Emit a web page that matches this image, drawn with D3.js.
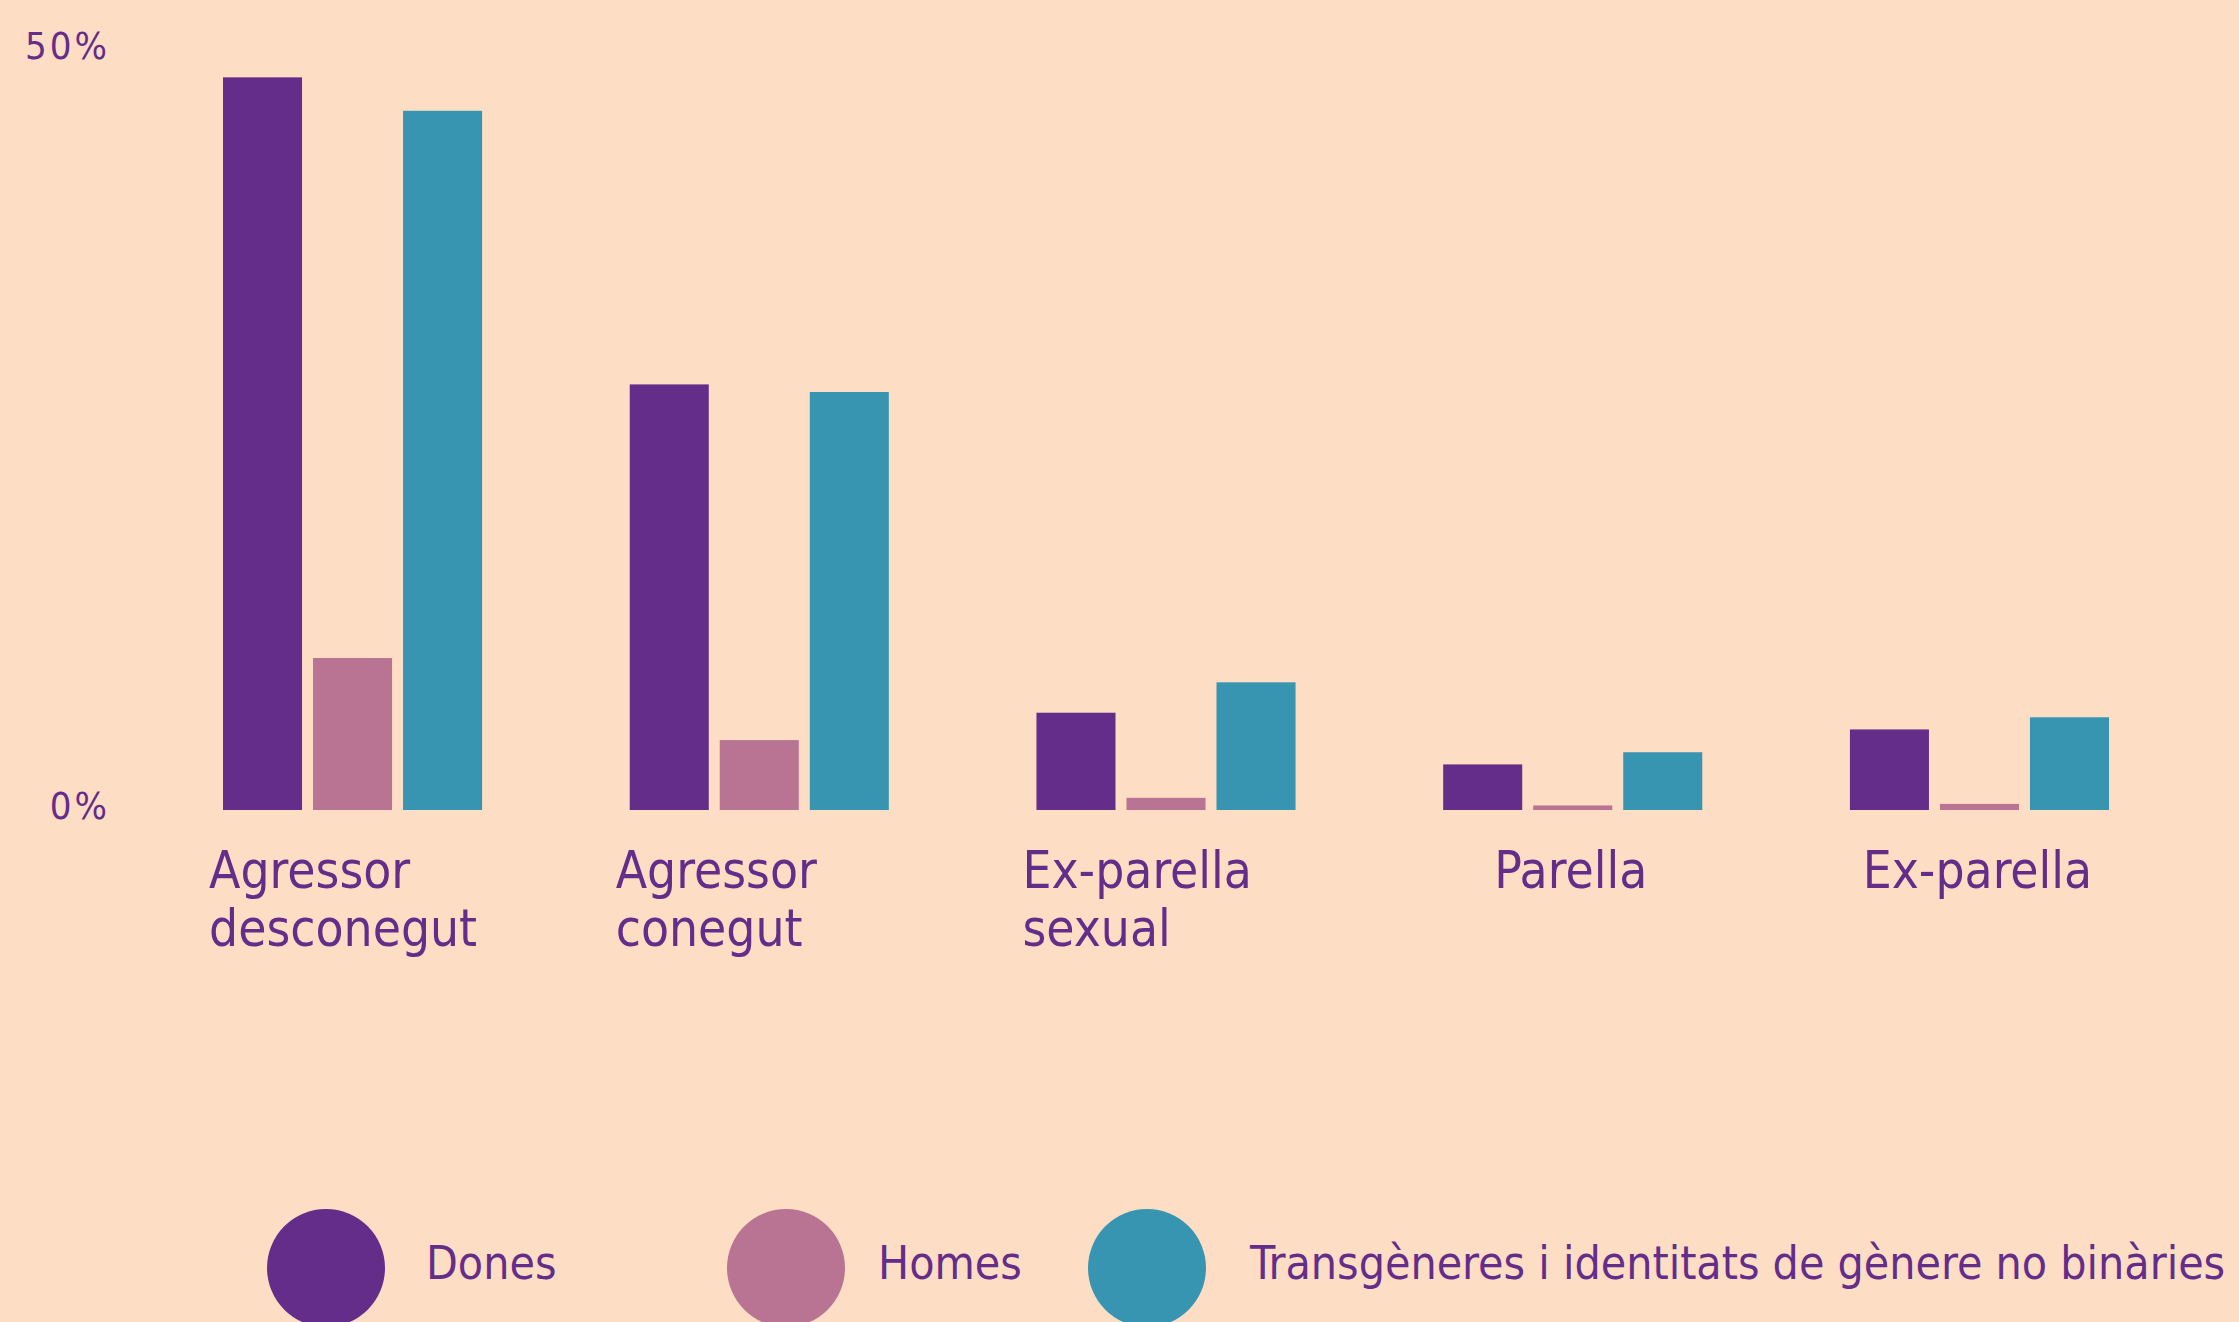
<!DOCTYPE html>
<html>
<head>
<meta charset="utf-8">
<script src="https://cdn.jsdelivr.net/npm/d3@7"></script>
<style>
  html, body { margin: 0; padding: 0; background: #fddec5; overflow: hidden; }
  svg { display: block; }
</style>
</head>
<body>
<svg id="chart" width="2239" height="1322"></svg>
<script>
// categories (each entry = lines of the x label)
var categories = ['Agressor desconegut', 'Agressor conegut', 'Ex-parella sexual', 'Parella', 'Ex-parella'];
var categoryLines = [['Agressor', 'desconegut'], ['Agressor', 'conegut'], ['Ex-parella', 'sexual'], ['Parella'], ['Ex-parella']];
var series = ['Dones', 'Homes', 'Transgèneres i identitats de gènere no binàries'];

// percent values per category, one array per series
var dones = [48.2, 28.0, 6.4, 3.0, 5.3];
var homes = [10.0, 4.6, 0.8, 0.3, 0.4];
var trans = [46.0, 27.5, 8.4, 3.8, 6.1];

var yTicks = [0, 50];
var colors = ['#642d8a', '#b97493', '#3795b1'];
var textColor = '#642d8a';

var rows = categories.map(function(c, i) {
  return { cat: c, values: [dones[i], homes[i], trans[i]] };
});

var svg = d3.select('#chart'),
  width = +svg.attr('width'),
  height = +svg.attr('height');

var margin = { top: 50, left: 223, right: 130, bottom: height - 810 };
var font = '"DejaVu Sans Condensed", "DejaVu Sans", sans-serif';

svg.append('rect')
  .attr('width', width)
  .attr('height', height)
  .attr('fill', '#fddec5');

var x0 = d3.scaleBand()
  .domain(categories)
  .range([margin.left, width - margin.right])
  .paddingInner(0.363)
  .paddingOuter(0);

var x1 = d3.scaleBand()
  .domain(series)
  .range([0, x0.bandwidth()])
  .paddingInner(0.122)
  .paddingOuter(0);

var y = d3.scaleLinear()
  .domain([0, 50])
  .range([height - margin.bottom, margin.top]);

var color = d3.scaleOrdinal().domain(series).range(colors);

// bars
var groups = svg.append('g')
  .selectAll('g')
  .data(rows)
  .enter()
  .append('g')
  .attr('transform', function(d) { return 'translate(' + x0(d.cat) + ',0)'; });

groups.selectAll('rect')
  .data(function(d) {
    return d.values.map(function(v, i) { return { key: series[i], value: v }; });
  })
  .enter()
  .append('rect')
  .attr('x', function(d) { return x1(d.key); })
  .attr('width', x1.bandwidth())
  .attr('y', function(d) { return y(d.value); })
  .attr('height', function(d) { return y(0) - y(d.value); })
  .attr('fill', function(d) { return color(d.key); });

// y axis (labels only)
var yAxis = svg.append('g')
  .attr('transform', 'translate(110,0)')
  .call(d3.axisLeft(y).tickValues(yTicks).tickSize(0).tickPadding(0).tickFormat(function(d) { return d + '%'; }));
yAxis.select('.domain').remove();
yAxis.selectAll('text')
  .attr('fill', textColor)
  .attr('dy', '0.22em')
  .style('font-family', font)
  .style('font-size', '38px')
  .style('letter-spacing', '3px');

// x labels
var xLabels = svg.append('g');
categories.forEach(function(c, i) {
  var lines = categoryLines[i];
  var multi = lines.length > 1;
  var lx = multi ? x0(c) - 14 : x0(c) + x0.bandwidth() / 2 - 2;
  var t = xLabels.append('text')
    .attr('fill', textColor)
    .attr('text-anchor', multi ? 'start' : 'middle')
    .attr('x', lx)
    .attr('y', y(0) + 78)
    .style('font-family', font)
    .style('font-size', '51px');
  lines.forEach(function(l, j) {
    t.append('tspan')
      .attr('x', lx)
      .attr('dy', j === 0 ? 0 : 58)
      .text(l);
  });
});

// legend
var legendX = [267, 727, 1088];
var legendTextX = [426, 878, 1250];
var legend = svg.append('g')
  .selectAll('g')
  .data(series)
  .enter()
  .append('g');

legend.append('circle')
  .attr('cx', function(d, i) { return legendX[i] + 59; })
  .attr('cy', 1268)
  .attr('r', 59)
  .attr('fill', function(d) { return color(d); });

legend.append('text')
  .attr('x', function(d, i) { return legendTextX[i]; })
  .attr('y', 1279)
  .attr('fill', textColor)
  .style('font-family', font)
  .style('font-size', '46px')
  .text(function(d) { return d; });
</script>
</body>
</html>
